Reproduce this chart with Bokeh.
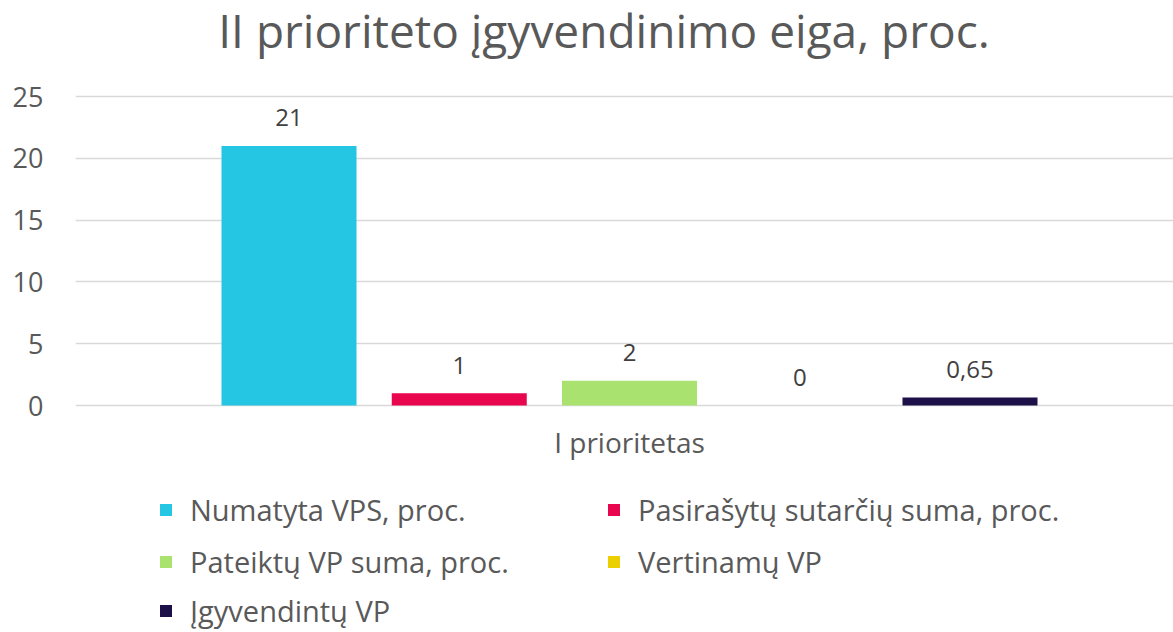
from bokeh.plotting import figure
from bokeh.models import ColumnDataSource, Range1d, FixedTicker, Legend, LegendItem
from bokeh.core.properties import value
from bokeh.embed import file_html
from bokeh.resources import INLINE

title = "II prioriteto įgyvendinimo eiga, proc."
category = "I prioritetas"
series = ["Numatyta VPS, proc.", "Pasirašytų sutarčių suma, proc.",
          "Pateiktų VP suma, proc.", "Vertinamų VP", "Įgyvendintų VP"]
values = [21, 1, 2, 0, 0.65]
colors = ["#25C6E3", "#E8064F", "#A9E26F", "#EBCF00", "#1D1048"]
y_ticks = [0, 5, 10, 15, 20, 25]

labels = [f"{v:g}".replace(".", ",") for v in values]
xs = list(range(len(series)))
src = ColumnDataSource(dict(x=xs, top=values, color=colors, label=labels))
center = sum(xs) / len(xs)
cat_src = ColumnDataSource(dict(x=[center], y=[0], text=[category]))

FONT = "Open Sans"
W, H = 1173, 632
FRAME_L = 75
ZERO_Y, TOP_Y = 405, 96          # pixel rows of 0 and of 25
ppu = (ZERO_Y - TOP_Y) / y_ticks[-1]
y_end = y_ticks[-1] + TOP_Y / ppu
y_start = -(H - ZERO_Y) / ppu
step = 170.25                    # px between bar centres
x_start = -(288.5 - FRAME_L) / step
x_end = x_start + (W - FRAME_L) / step

TITLE_CX = 603.5
title_src = ColumnDataSource(dict(x=[x_start + (TITLE_CX - FRAME_L) / step],
                                  y=[y_end], text=[title]))

p = figure(width=W, height=H, output_backend="svg", toolbar_location=None,
           x_range=Range1d(x_start, x_end), y_range=Range1d(y_start, y_end),
           x_axis_location=None, title=None,
           min_border_left=FRAME_L, min_border_right=0, min_border_top=0,
           min_border_bottom=0)
p.outline_line_color = None
p.background_fill_color = "white"
p.border_fill_color = "white"

bars = p.vbar(x="x", top="top", width=135 / step, bottom=0, fill_color="color",
              line_color=None, source=src)
p.text(x="x", y="top", text="label", source=src, text_align="center",
       text_baseline="alphabetic", y_offset=-28, text_font=value(FONT),
       text_font_size="24px", text_color="#404040")
p.text(x="x", y="y", text="text", source=cat_src, text_align="center",
       text_baseline="alphabetic", y_offset=36, text_font=value(FONT),
       text_font_size="28px", text_color="#595959")
p.text(x="x", y="y", text="text", source=title_src, text_align="center",
       text_baseline="alphabetic", y_offset=29, text_font=value(FONT),
       text_font_size="46px", text_color="#595959")

# y axis
p.yaxis.ticker = FixedTicker(ticks=y_ticks)
p.yaxis.axis_line_color = None
p.yaxis.major_tick_line_color = None
p.yaxis.minor_tick_line_color = None
p.yaxis.major_tick_out = 0
p.yaxis.major_tick_in = 0
p.yaxis.major_label_text_font = FONT
p.yaxis.major_label_text_font_size = "27px"
p.yaxis.major_label_text_color = "#595959"
p.yaxis.major_label_standoff = 32

p.ygrid.ticker = FixedTicker(ticks=y_ticks)
p.ygrid.grid_line_color = "#D9D9D9"
p.ygrid.grid_line_width = 1.5
p.xgrid.grid_line_color = None

# legend rows
rows = [[0, 1], [2, 3], [4]]
row_centres = [509, 561, 610]
LH = 42
for idx, cy in zip(rows, row_centres):
    items = [LegendItem(label=series[i], renderers=[bars], index=i) for i in idx]
    leg = Legend(items=items, orientation="horizontal",
                 location=(158 - FRAME_L, H - (cy + LH // 2)),
                 glyph_width=15, glyph_height=15, label_standoff=17, label_width=416,
                 label_height=LH, spacing=0, padding=0, margin=0,
                 border_line_color=None, background_fill_alpha=0,
                 label_text_font=FONT, label_text_font_size="29px",
                 label_text_color="#595959")
    p.add_layout(leg)

open("out.html", "w").write(file_html(p, INLINE))
